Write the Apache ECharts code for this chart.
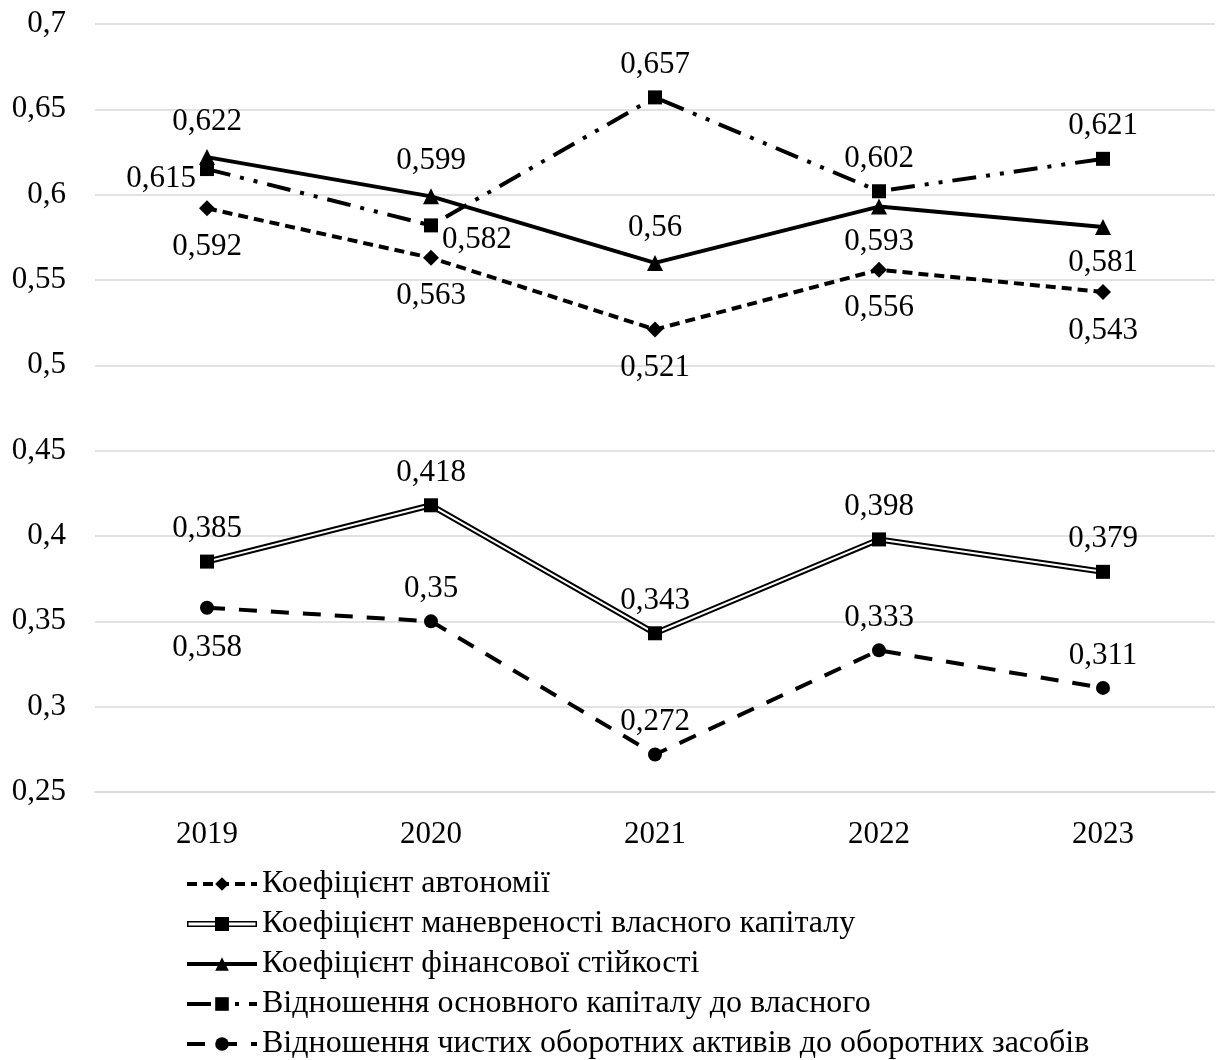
<!DOCTYPE html>
<html>
<head>
<meta charset="utf-8">
<script src="https://cdn.jsdelivr.net/npm/echarts@6/dist/echarts.min.js"></script>
<style>
  html, body { margin: 0; padding: 0; background: #fff; }
  #chart { width: 1220px; height: 1060px; }
</style>
</head>
<body>
<div id="chart"></div>
<script>
// categories and values
const years = ['2019', '2020', '2021', '2022', '2023'];
const autonomy = [0.592, 0.563, 0.521, 0.556, 0.543];
const maneuver = [0.385, 0.418, 0.343, 0.398, 0.379];
const stability = [0.622, 0.599, 0.56, 0.593, 0.581];
const fixedToEquity = [0.615, 0.582, 0.657, 0.602, 0.621];
const netCurrent = [0.358, 0.35, 0.272, 0.333, 0.311];

const names = [
  'Коефіцієнт автономії',
  'Коефіцієнт маневреності власного капіталу',
  'Коефіцієнт фінансової стійкості',
  'Відношення основного капіталу до власного',
  'Відношення чистих оборотних активів до оборотних засобів'
];

const FONT = 'Liberation Serif';
const FS = 31;
const fmt = (v) => String(+(+v).toFixed(3)).replace('.', ',');

// label placement per point (style only)
const stabilityPos = ['top', 'top', 'top', 'bottom', 'bottom'];
const fixedPos = ['left', 'right', 'top', 'top', 'top'];
const fixedOffset = [[0, 10], [0, 14], [0, 0], [0, 0], [0, 0]];
const netPos = ['bottom', 'top', 'top', 'top', 'top'];

const labelBase = {
  show: true,
  color: '#000',
  fontFamily: FONT,
  fontSize: FS,
  formatter: (p) => fmt(p.value)
};

function points(values, pos, offsets, dist) {
  return values.map((v, i) => ({
    value: v,
    label: {
      position: pos[i],
      offset: offsets ? offsets[i] : [0, 0],
      distance: pos[i] === 'left' || pos[i] === 'right' ? 4 : dist
    }
  }));
}

const chart = echarts.init(document.getElementById('chart'));

const option = {
  animation: false,
  backgroundColor: '#fff',
  textStyle: { fontFamily: FONT },
  grid: { left: 95, right: 5, top: 24, bottom: 268 },
  legend: {
    orient: 'vertical',
    left: 180,
    top: 863,
    height: 260,
    itemWidth: 70,
    itemHeight: 17,
    itemGap: 8,
    textStyle: { color: '#000', fontFamily: FONT, fontSize: 32 },
    data: [
      { name: names[0], lineStyle: { width: 4 } },
      {
        name: names[1],
        icon: 'path://M0,5 L70,5 L70,11 L0,11 Z M1.5,6.6 L1.5,9.4 L68.5,9.4 L68.5,6.6 Z M28,1 L42,1 L42,15 L28,15 Z',
        itemStyle: { color: '#000', borderWidth: 0 }
      },
      { name: names[2], lineStyle: { width: 4 } },
      { name: names[3], lineStyle: { width: 4 } },
      { name: names[4], lineStyle: { width: 4 } }
    ]
  },
  xAxis: {
    type: 'category',
    data: years,
    boundaryGap: true,
    axisLine: { show: true, lineStyle: { color: '#d9d9d9', width: 1.5 } },
    axisTick: { show: false },
    axisLabel: { color: '#000', fontFamily: FONT, fontSize: FS, margin: 27 }
  },
  yAxis: {
    type: 'value',
    min: 0.25,
    max: 0.7,
    interval: 0.05,
    axisLine: { show: false },
    axisTick: { show: false },
    axisLabel: { color: '#000', fontFamily: FONT, fontSize: FS, margin: 29, formatter: fmt },
    splitLine: { lineStyle: { color: '#d9d9d9', width: 1.5 } }
  },
  series: [
    {
      name: names[0],
      type: 'line',
      z: 5,
      data: points(autonomy, ['bottom', 'bottom', 'bottom', 'bottom', 'bottom'], null, 15),
      symbol: 'diamond',
      symbolSize: 16,
      itemStyle: { color: '#000' },
      lineStyle: { color: '#000', width: 4, type: [10, 6] },
      label: labelBase
    },
    {
      // outer black stroke of the double line
      name: names[1],
      type: 'line',
      z: 2,
      data: maneuver,
      symbol: 'none',
      itemStyle: { color: '#000' },
      lineStyle: { color: '#000', width: 6 }
    },
    {
      // white core of the double line
      name: 'maneuver-inner',
      type: 'line',
      z: 3,
      silent: true,
      data: maneuver,
      symbol: 'none',
      lineStyle: { color: '#fff', width: 2 }
    },
    {
      // markers and labels for the double line
      name: 'maneuver-marks',
      type: 'line',
      z: 4,
      data: points(maneuver, ['top', 'top', 'top', 'top', 'top'], null, 10),
      symbol: 'rect',
      symbolSize: 14,
      itemStyle: { color: '#000' },
      lineStyle: { opacity: 0 },
      label: labelBase
    },
    {
      name: names[2],
      type: 'line',
      z: 5,
      data: points(stability, stabilityPos, null, 12),
      symbol: 'triangle',
      symbolSize: 16,
      itemStyle: { color: '#000' },
      lineStyle: { color: '#000', width: 4 },
      label: labelBase
    },
    {
      name: names[3],
      type: 'line',
      z: 5,
      data: points(fixedToEquity, fixedPos, fixedOffset, 10),
      symbol: 'rect',
      symbolSize: 14,
      itemStyle: { color: '#000' },
      lineStyle: { color: '#000', width: 4, type: [24, 10, 4, 10, 4, 10] },
      label: labelBase
    },
    {
      name: names[4],
      type: 'line',
      z: 5,
      data: points(netCurrent, netPos, [[0, 8], [0, 0], [0, 0], [0, 0], [0, 0]], 10),
      symbol: 'circle',
      symbolSize: 14,
      itemStyle: { color: '#000' },
      lineStyle: { color: '#000', width: 4, type: [18, 14] },
      label: labelBase
    }
  ]
};

chart.setOption(option);
window.addEventListener('resize', () => chart.resize());
</script>
</body>
</html>
